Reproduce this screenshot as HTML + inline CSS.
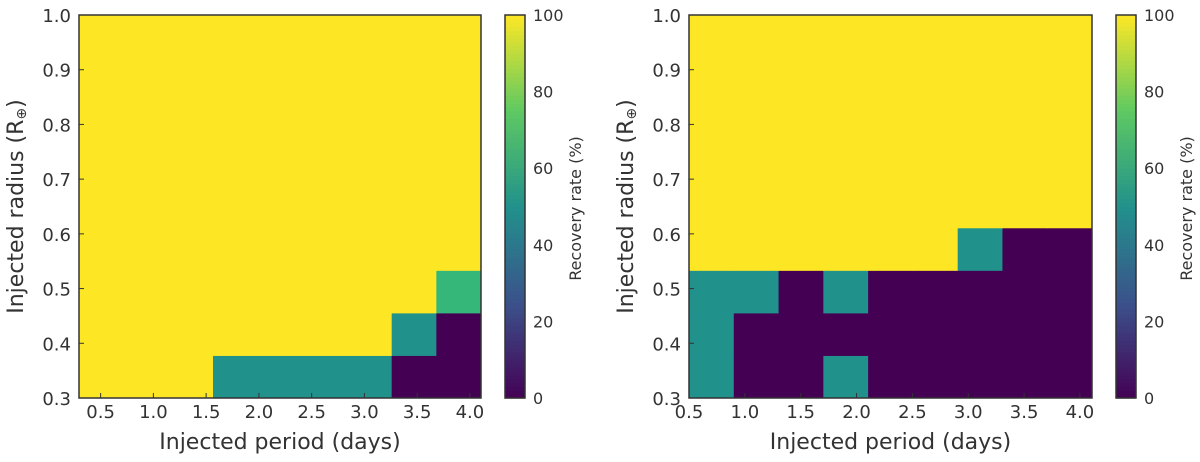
<!DOCTYPE html>
<html><head><meta charset="utf-8"><style>
body{margin:0;background:#fff;}
svg{display:block;font-family:"DejaVu Sans","Liberation Sans",sans-serif;}
</style></head><body>
<svg id="fig" width="1200" height="462"></svg>
<script>
// Data
const radiusTicks=[0.3,0.4,0.5,0.6,0.7,0.8,0.9,1.0];
const periodTicks=[0.5,1.0,1.5,2.0,2.5,3.0,3.5,4.0];
const cbTicks=[0,20,40,60,80,100];
const leftPeriodRange=[0.295,4.105];
const rightPeriodRange=[0.5,4.108];
const radiusRange=[0.3,1.0];
// rows bottom->top, 9 columns each (recovery %)
const leftGrid=[
[100,100,100,50,50,50,50,0,0],
[100,100,100,100,100,100,100,50,0],
[100,100,100,100,100,100,100,100,72],
[100,100,100,100,100,100,100,100,100],
[100,100,100,100,100,100,100,100,100],
[100,100,100,100,100,100,100,100,100],
[100,100,100,100,100,100,100,100,100],
[100,100,100,100,100,100,100,100,100],
[100,100,100,100,100,100,100,100,100]];
const rightGrid=[
[50,0,0,50,0,0,0,0,0],
[50,0,0,0,0,0,0,0,0],
[50,50,0,50,0,0,0,0,0],
[100,100,100,100,100,100,50,0,0],
[100,100,100,100,100,100,100,100,100],
[100,100,100,100,100,100,100,100,100],
[100,100,100,100,100,100,100,100,100],
[100,100,100,100,100,100,100,100,100],
[100,100,100,100,100,100,100,100,100]];

const NS="http://www.w3.org/2000/svg";
const svg=document.getElementById('fig');
function el(tag,attrs,parent){const e=document.createElementNS(NS,tag);for(const k in attrs)e.setAttribute(k,attrs[k]);(parent||svg).appendChild(e);return e;}
const vstops=[[0,[68,1,84]],[0.25,[59,82,139]],[0.5,[33,145,140]],[0.75,[94,201,98]],[1,[253,231,37]]];
function viridis(v){const t=Math.max(0,Math.min(1,v/100));for(let i=0;i<vstops.length-1;i++){const a=vstops[i],b=vstops[i+1];if(t<=b[0]){const f=(t-a[0])/(b[0]-a[0]);const c=a[1].map((x,j)=>Math.round(x+(b[1][j]-x)*f));return 'rgb('+c.join(',')+')';}}return 'rgb(253,231,37)';}
function col(v){if(v>=100)return '#fde725';if(v===50)return '#21918c';if(v<=0)return '#440154';if(v>=70&&v<=75)return '#35b779';return viridis(v);}

const plotTop=15,plotBot=398;
function drawPanel(name,x0,x1,prange,grid,cbx){
  const g=el('g',{},svg);
  
  
  const sx=p=>x0+(p-prange[0])/(prange[1]-prange[0])*(x1-x0);
  const sy=r=>plotBot-(r-radiusRange[0])/(radiusRange[1]-radiusRange[0])*(plotBot-plotTop);
  const nr=grid.length,nc=grid[0].length;
  const pw=(prange[1]-prange[0])/nc, rh=(radiusRange[1]-radiusRange[0])/nr;
  grid.forEach((row,i)=>row.forEach((v,j)=>{
    const xa=sx(prange[0]+j*pw),xb=sx(prange[0]+(j+1)*pw);
    const ya=sy(radiusRange[0]+(i+1)*rh),yb=sy(radiusRange[0]+i*rh);
    const r=el('rect',{x:xa,y:ya,width:xb-xa+0.5,height:yb-ya+0.5,fill:col(v)},g);
    
    
  }));
  const fr=el('rect',{x:x0,y:plotTop,width:x1-x0,height:plotBot-plotTop,fill:'none',stroke:'#333',"stroke-width":1.5},g);
  
  
  periodTicks.forEach(p=>{const x=sx(p);
    el('line',{x1:x,x2:x,y1:plotBot,y2:plotBot-5,stroke:'#333'},g);
    const t=el('text',{x:x,y:418,"font-size":18,fill:'#333',"text-anchor":'middle'},g);t.textContent=p.toFixed(1);
    
    });
  radiusTicks.forEach(r=>{const y=sy(r);
    el('line',{x1:x0,x2:x0+5,y1:y,y2:y,stroke:'#333'},g);
    const t=el('text',{x:x0-8,y:y+7,"font-size":18,fill:'#333',"text-anchor":'end'},g);t.textContent=r.toFixed(1);
    
    });
  const xt=el('text',{x:(x0+x1)/2,y:449,"font-size":22,fill:'#333',"text-anchor":'middle'},g);xt.textContent='Injected period (days)';
  
  
  const yx=x0-56, ycy=(plotTop+plotBot)/2;
  const yt=el('text',{x:yx,y:ycy,"font-size":22,fill:'#333',"text-anchor":'middle',transform:'rotate(-90 '+yx+' '+ycy+')'},g);
  yt.appendChild(document.createTextNode('Injected radius (R'));
  const s1=el('tspan',{"font-size":14,dy:3},yt);s1.textContent='⊕';
  const s2=el('tspan',{dy:-3},yt);s2.textContent=')';
  
  
  const cb=el('g',{},g);
  
  
  for(let k=0;k<100;k++){const ya=plotBot-(k+1)/100*(plotBot-plotTop),h=(plotBot-plotTop)/100+0.6;
    el('rect',{x:cbx,y:ya,width:20,height:h,fill:viridis(k+0.5)},cb);}
  el('rect',{x:cbx,y:plotTop,width:20,height:plotBot-plotTop,fill:'none',stroke:'#333',"stroke-width":1.5},cb);
  cbTicks.forEach(v=>{const y=plotBot-v/100*(plotBot-plotTop);
    const t=el('text',{x:cbx+28,y:y+6,"font-size":16,fill:'#333'},cb);t.textContent=v;
    
    });
  const cx=cbx+76,cy=(plotTop+plotBot)/2+2;
  const ct=el('text',{x:cx,y:cy,"font-size":16,fill:'#333',"text-anchor":'middle',transform:'rotate(-90 '+cx+' '+cy+')'},cb);ct.textContent='Recovery rate (%)';
  
  
}
drawPanel('left-heatmap',79,481,leftPeriodRange,leftGrid,505);
drawPanel('right-heatmap',689,1092,rightPeriodRange,rightGrid,1116);
</script>
</body></html>
